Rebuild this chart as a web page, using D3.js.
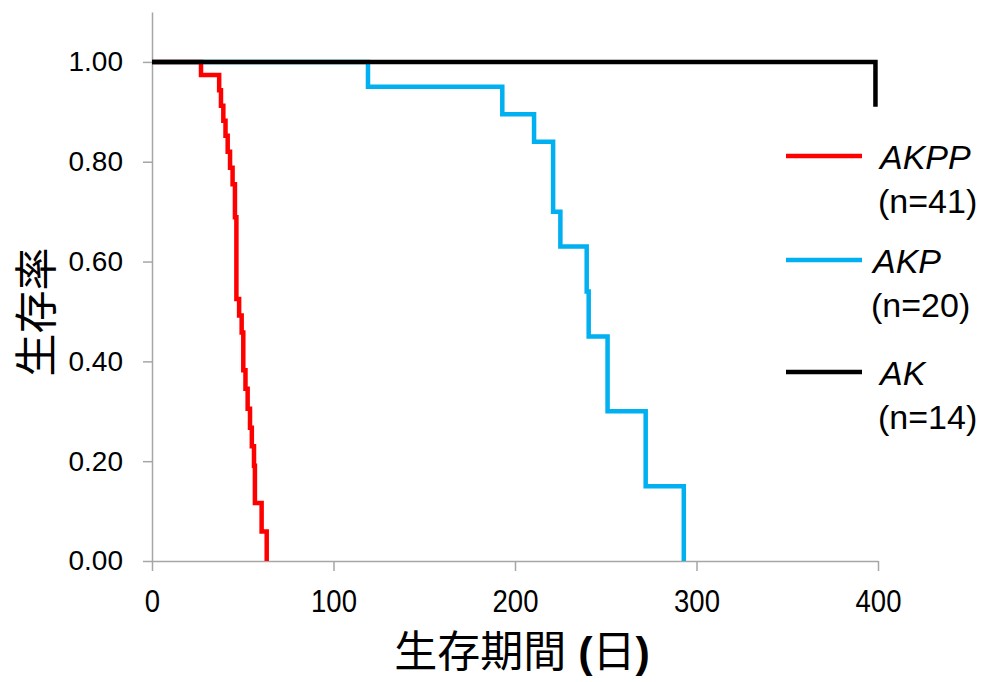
<!DOCTYPE html>
<html>
<head>
<meta charset="utf-8">
<script src="https://cdn.jsdelivr.net/npm/d3@7"></script>
<style>
  body { margin: 0; background: #fff; }
  text { font-family: Arial, "Liberation Sans", sans-serif; }
</style>
</head>
<body>
<script>
// survival data (days, survival fraction)
var akppDays = [0, 27, 37, 38, 39.3, 40.5, 41.7, 43, 44.4, 45.7, 46.5, 48, 49.4, 50.3, 51.5, 52.7, 54, 55, 56.2, 56.7, 60.4, 63.2];
var akppSurv = [1, 0.974, 0.943, 0.912, 0.882, 0.852, 0.82, 0.788, 0.755, 0.689, 0.525, 0.492, 0.458, 0.382, 0.345, 0.305, 0.267, 0.23, 0.191, 0.116, 0.059, 0];

var akpDays = [0, 119, 193, 210.5, 221, 225, 239.5, 240.6, 251, 272, 293];
var akpSurv = [1, 0.95, 0.895, 0.84, 0.70, 0.63, 0.54, 0.45, 0.30, 0.15, 0];

var akDays = [0, 398.6];
var akSurv = [1, 0.91];

var seriesNames = ["AKPP", "AKP", "AK"];
var seriesN = ["(n=41)", "(n=20)", "(n=14)"];
var seriesColors = ["#ff0000", "#00b0f0", "#000000"];

var xTicks = [0, 100, 200, 300, 400];
var yTicks = [0, 0.2, 0.4, 0.6, 0.8, 1.0];

var width = 987, height = 682;
var svg = d3.select("body").append("svg")
    .attr("width", width)
    .attr("height", height);

var xScale = d3.scaleLinear().domain([0, 400]).range([152, 878]);
var yScale = d3.scaleLinear().domain([0, 1.1]).range([561, 12]);

// axes
var xAxis = svg.append("g")
    .attr("transform", "translate(0," + yScale(0) + ")")
    .call(d3.axisBottom(xScale).tickValues(xTicks).tickSize(10).tickSizeOuter(0));
xAxis.select(".domain").attr("stroke", "#a6a6a6").attr("stroke-width", 1.5);
xAxis.selectAll(".tick line").attr("stroke", "#a6a6a6").attr("stroke-width", 1.5);
xAxis.selectAll(".tick text")
    .attr("font-size", "32px")
    .attr("fill", "#000")
    .attr("font-family", "Arial, 'Liberation Sans', sans-serif")
    .attr("y", 28)
    .attr("transform", "scale(0.86,1)");

var yAxis = svg.append("g")
    .attr("transform", "translate(" + xScale(0) + ",0)")
    .call(d3.axisLeft(yScale).tickValues(yTicks).tickSize(9).tickSizeOuter(0)
        .tickFormat(d3.format(".2f")));
yAxis.select(".domain").attr("stroke", "#a6a6a6").attr("stroke-width", 1.5);
yAxis.selectAll(".tick line").attr("stroke", "#a6a6a6").attr("stroke-width", 1.5);
yAxis.selectAll(".tick text")
    .attr("font-size", "28px")
    .attr("fill", "#000")
    .attr("font-family", "Arial, 'Liberation Sans', sans-serif")
    .attr("x", -29);

// step curves
var line = d3.line()
    .x(function (d) { return xScale(d[0]); })
    .y(function (d) { return yScale(d[1]); })
    .curve(d3.curveStepAfter);

function pairs(days, surv) {
    return days.map(function (d, i) { return [d, surv[i]]; });
}

var curves = [pairs(akpDays, akpSurv), pairs(akppDays, akppSurv), pairs(akDays, akSurv)];
var curveColors = [seriesColors[1], seriesColors[0], seriesColors[2]];

svg.selectAll("path.curve")
    .data(curves)
    .enter()
    .append("path")
    .attr("class", "curve")
    .attr("d", line)
    .attr("fill", "none")
    .attr("stroke", function (d, i) { return curveColors[i]; })
    .attr("stroke-width", 4.5);

// legend
var legY = [156, 260, 372];
var legX = [880, 873, 880];
var legend = svg.selectAll("g.leg")
    .data(seriesNames)
    .enter()
    .append("g")
    .attr("class", "leg");

legend.append("line")
    .attr("x1", 786).attr("x2", 862)
    .attr("y1", function (d, i) { return legY[i]; })
    .attr("y2", function (d, i) { return legY[i]; })
    .attr("stroke", function (d, i) { return seriesColors[i]; })
    .attr("stroke-width", 4.5);

legend.append("text")
    .text(function (d) { return d; })
    .attr("x", function (d, i) { return legX[i]; })
    .attr("y", function (d, i) { return legY[i] + 13; })
    .attr("font-size", "34px")
    .attr("font-style", "italic");

legend.append("text")
    .text(function (d, i) { return seriesN[i]; })
    .attr("x", function (d, i) { return legX[i] - 2; })
    .attr("y", function (d, i) { return legY[i] + 57; })
    .attr("font-size", "34px");

// axis titles
svg.append("text")
    .attr("transform", "translate(52,312) rotate(-90)")
    .attr("text-anchor", "middle")
    .attr("font-size", "43px")
    .style("font-family", "'Noto Sans CJK JP', sans-serif")
    .text("生存率");

var xt = svg.append("text")
    .attr("x", 522)
    .attr("y", 667)
    .attr("text-anchor", "middle")
    .attr("font-size", "43px")
    .style("font-family", "'Noto Sans CJK JP', sans-serif");
xt.append("tspan").text("生存期間");
xt.append("tspan").attr("dx", 12).attr("font-weight", "bold").style("font-family", "Arial, 'Liberation Sans', sans-serif").text("(");
xt.append("tspan").text("日");
xt.append("tspan").attr("font-weight", "bold").style("font-family", "Arial, 'Liberation Sans', sans-serif").text(")");
</script>
</body>
</html>
